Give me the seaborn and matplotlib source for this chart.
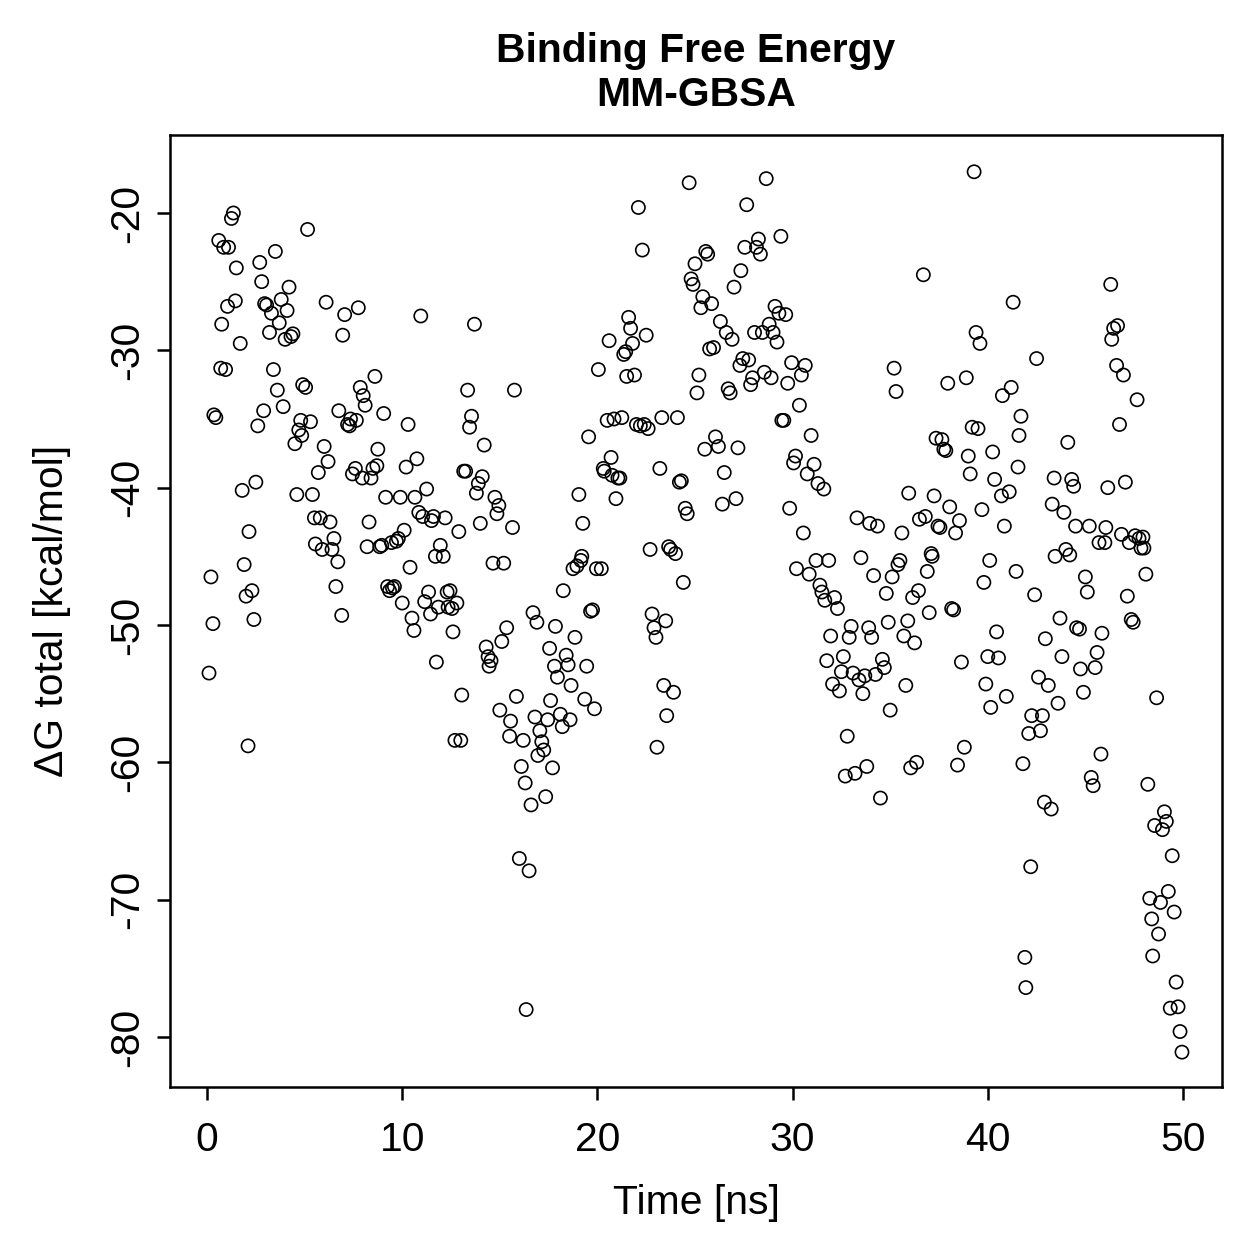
import seaborn as sns
import matplotlib.pyplot as plt
import pandas as pd

# time [ns] and dG total [kcal/mol]
time_ns = [
    0.1, 0.2, 0.3, 0.35, 0.45, 0.6, 0.7, 0.75, 0.85, 0.95, 1.05, 1.1, 1.25, 1.35, 1.45, 1.5, 1.7, 1.8, 1.9, 2.0,
    2.1, 2.15, 2.3, 2.4, 2.5, 2.6, 2.7, 2.8, 2.9, 2.95, 3.05, 3.2, 3.3, 3.4, 3.5, 3.6, 3.7, 3.8, 3.9, 4.0,
    4.1, 4.2, 4.3, 4.4, 4.5, 4.6, 4.7, 4.8, 4.85, 4.9, 5.05, 5.15, 5.3, 5.4, 5.5, 5.55, 5.7, 5.8, 5.9, 6.0,
    6.1, 6.2, 6.3, 6.4, 6.5, 6.6, 6.7, 6.75, 6.9, 6.95, 7.05, 7.2, 7.3, 7.35, 7.45, 7.6, 7.65, 7.75, 7.85, 7.95,
    8.0, 8.1, 8.2, 8.3, 8.4, 8.5, 8.6, 8.7, 8.75, 8.85, 8.95, 9.05, 9.15, 9.25, 9.35, 9.45, 9.5, 9.6, 9.7, 9.8,
    9.9, 10.0, 10.1, 10.2, 10.3, 10.4, 10.5, 10.6, 10.65, 10.75, 10.85, 10.95, 11.05, 11.15, 11.25, 11.35, 11.45, 11.5, 11.6, 11.7,
    11.75, 11.85, 11.95, 12.1, 12.2, 12.3, 12.35, 12.45, 12.55, 12.6, 12.7, 12.8, 12.9, 13.0, 13.05, 13.15, 13.25, 13.35, 13.45, 13.55,
    13.7, 13.8, 13.9, 14.0, 14.1, 14.2, 14.3, 14.4, 14.45, 14.55, 14.65, 14.75, 14.85, 14.95, 15.0, 15.1, 15.2, 15.35, 15.5, 15.55,
    15.65, 15.75, 15.85, 16.0, 16.1, 16.2, 16.3, 16.35, 16.5, 16.6, 16.7, 16.8, 16.9, 16.95, 17.05, 17.15, 17.25, 17.35, 17.45, 17.55,
    17.6, 17.7, 17.8, 17.85, 17.95, 18.1, 18.2, 18.25, 18.4, 18.5, 18.6, 18.65, 18.75, 18.85, 18.95, 19.05, 19.15, 19.2, 19.25, 19.35,
    19.45, 19.55, 19.65, 19.75, 19.85, 19.95, 20.05, 20.2, 20.3, 20.35, 20.5, 20.6, 20.7, 20.75, 20.85, 20.95, 21.05, 21.15, 21.25, 21.35,
    21.45, 21.5, 21.6, 21.7, 21.8, 21.9, 22.0, 22.1, 22.2, 22.3, 22.4, 22.5, 22.6, 22.7, 22.8, 22.9, 23.0, 23.05, 23.2, 23.3,
    23.4, 23.5, 23.55, 23.65, 23.75, 23.9, 24.0, 24.1, 24.2, 24.3, 24.4, 24.5, 24.6, 24.7, 24.8, 24.9, 25.0, 25.1, 25.2, 25.3,
    25.4, 25.5, 25.55, 25.65, 25.75, 25.85, 25.95, 26.05, 26.2, 26.3, 26.4, 26.5, 26.6, 26.7, 26.8, 26.9, 27.0, 27.1, 27.2, 27.3,
    27.35, 27.45, 27.55, 27.65, 27.75, 27.85, 27.95, 28.05, 28.15, 28.25, 28.35, 28.45, 28.55, 28.65, 28.8, 28.9, 29.0, 29.1, 29.2, 29.3,
    29.4, 29.45, 29.55, 29.65, 29.75, 29.85, 29.95, 30.05, 30.15, 30.2, 30.35, 30.45, 30.55, 30.65, 30.75, 30.85, 30.95, 31.1, 31.2, 31.3,
    31.4, 31.5, 31.6, 31.65, 31.75, 31.85, 31.95, 32.05, 32.15, 32.3, 32.4, 32.5, 32.6, 32.7, 32.8, 32.9, 33.0, 33.1, 33.2, 33.3,
    33.4, 33.5, 33.6, 33.7, 33.8, 33.9, 33.95, 34.05, 34.15, 34.25, 34.35, 34.5, 34.6, 34.7, 34.8, 34.9, 35.0, 35.1, 35.2, 35.3,
    35.4, 35.5, 35.6, 35.7, 35.8, 35.9, 35.95, 36.05, 36.15, 36.25, 36.35, 36.45, 36.5, 36.7, 36.8, 36.9, 37.0, 37.1, 37.15, 37.25,
    37.35, 37.45, 37.55, 37.65, 37.75, 37.85, 37.95, 38.05, 38.15, 38.25, 38.35, 38.45, 38.55, 38.65, 38.8, 38.9, 39.0, 39.1, 39.2, 39.3,
    39.4, 39.5, 39.6, 39.7, 39.8, 39.9, 40.0, 40.1, 40.15, 40.25, 40.35, 40.45, 40.55, 40.7, 40.75, 40.85, 40.95, 41.1, 41.2, 41.3,
    41.45, 41.55, 41.6, 41.7, 41.8, 41.9, 41.95, 42.1, 42.2, 42.25, 42.4, 42.5, 42.6, 42.7, 42.8, 42.9, 42.95, 43.1, 43.25, 43.3,
    43.4, 43.45, 43.6, 43.7, 43.8, 43.9, 44.0, 44.1, 44.2, 44.3, 44.4, 44.5, 44.55, 44.7, 44.75, 44.9, 45.0, 45.1, 45.2, 45.3,
    45.4, 45.5, 45.6, 45.7, 45.8, 45.85, 46.0, 46.05, 46.15, 46.3, 46.35, 46.45, 46.6, 46.65, 46.75, 46.85, 46.95, 47.05, 47.15, 47.25,
    47.35, 47.45, 47.55, 47.65, 47.75, 47.85, 47.95, 48.0, 48.1, 48.2, 48.3, 48.4, 48.45, 48.55, 48.65, 48.75, 48.85, 48.95, 49.05, 49.15,
    49.25, 49.35, 49.45, 49.55, 49.65, 49.75, 49.85, 49.95,
]
dg_total = [
    -53.5, -46.5, -49.9, -34.7, -34.9, -22.0, -31.3, -28.1, -22.5, -31.4, -26.8, -22.5, -20.4, -20.0, -26.4, -24.0, -29.5, -40.2, -45.6, -47.9,
    -58.8, -43.2, -47.5, -49.6, -39.6, -35.5, -23.6, -25.0, -34.4, -26.6, -26.7, -28.7, -27.3, -31.4, -22.8, -32.9, -28.0, -26.3, -34.1, -29.2,
    -27.1, -25.4, -29.0, -28.8, -36.8, -40.5, -35.8, -35.1, -36.2, -32.5, -32.7, -21.2, -35.2, -40.5, -42.2, -44.1, -38.9, -42.2, -44.5, -37.0,
    -26.5, -38.1, -42.5, -44.5, -43.7, -47.2, -45.4, -34.4, -49.3, -28.9, -27.4, -35.4, -35.5, -35.0, -39.0, -38.6, -35.1, -26.9, -32.7, -39.3,
    -33.3, -34.0, -44.3, -42.5, -39.3, -38.6, -31.9, -38.4, -37.2, -44.3, -44.2, -34.6, -40.7, -47.2, -47.5, -44.0, -47.3, -47.2, -43.9, -43.7,
    -40.7, -48.4, -43.1, -38.5, -35.4, -45.8, -49.5, -50.4, -40.7, -37.9, -41.8, -27.5, -42.1, -48.3, -40.1, -47.6, -49.2, -42.4, -42.1, -45.0,
    -52.7, -48.7, -44.2, -45.0, -42.2, -47.6, -48.7, -47.5, -48.8, -50.5, -58.4, -48.4, -43.2, -58.4, -55.1, -38.8, -38.8, -32.9, -35.6, -34.8,
    -28.1, -40.4, -39.7, -42.6, -39.2, -36.9, -51.6, -52.3, -53.0, -52.6, -45.5, -40.7, -41.9, -41.3, -56.2, -51.2, -45.5, -50.2, -58.1, -57.0,
    -42.9, -32.9, -55.2, -67.0, -60.3, -58.4, -61.5, -78.0, -67.9, -63.1, -49.1, -56.7, -49.8, -59.5, -57.7, -58.5, -59.1, -62.5, -56.9, -51.7,
    -55.5, -60.4, -53.0, -50.1, -53.8, -56.5, -57.4, -47.5, -52.2, -52.9, -56.9, -54.4, -45.9, -50.9, -45.7, -40.5, -45.3, -45.0, -42.6, -55.4,
    -53.0, -36.3, -49.0, -48.9, -56.1, -45.9, -31.4, -45.9, -38.6, -38.8, -35.1, -29.3, -37.8, -39.1, -35.0, -40.8, -39.3, -39.3, -34.9, -30.3,
    -30.1, -31.9, -27.6, -28.4, -29.5, -31.8, -35.4, -19.6, -35.5, -22.7, -35.4, -28.9, -35.7, -44.5, -49.2, -50.2, -50.9, -58.9, -38.6, -34.9,
    -54.4, -49.7, -56.6, -44.3, -44.5, -54.9, -44.8, -34.9, -39.6, -39.5, -46.9, -41.5, -41.9, -17.8, -24.8, -25.2, -23.7, -33.1, -31.8, -26.9,
    -26.1, -37.2, -22.8, -23.0, -29.9, -26.6, -29.8, -36.3, -37.0, -27.9, -41.2, -38.9, -28.7, -32.8, -33.1, -29.2, -25.4, -40.8, -37.1, -31.1,
    -24.2, -30.6, -22.5, -19.4, -30.7, -32.5, -32.0, -28.7, -22.5, -21.9, -23.0, -28.7, -31.6, -17.5, -28.1, -32.0, -28.7, -26.8, -29.4, -27.3,
    -21.7, -35.1, -35.1, -27.4, -32.4, -41.5, -30.9, -38.2, -37.7, -45.9, -34.0, -31.8, -43.3, -31.1, -39.0, -46.3, -36.2, -38.3, -45.3, -39.7,
    -47.1, -47.6, -40.1, -48.2, -52.6, -45.3, -50.8, -54.3, -48.0, -48.8, -54.8, -53.4, -52.3, -61.0, -58.1, -50.9, -50.1, -53.5, -60.8, -42.2,
    -54.0, -45.1, -55.0, -53.7, -60.3, -50.2, -42.6, -50.9, -46.4, -53.6, -42.8, -62.6, -52.5, -53.1, -47.7, -49.8, -56.2, -46.5, -31.3, -33.0,
    -45.6, -45.3, -43.3, -50.8, -54.4, -49.7, -40.4, -60.4, -48.0, -51.3, -60.0, -47.5, -42.3, -24.5, -42.1, -46.1, -49.1, -44.8, -45.0, -40.6,
    -36.4, -42.8, -42.9, -36.5, -37.2, -37.3, -32.4, -41.4, -48.8, -48.9, -43.3, -60.2, -42.4, -52.7, -58.9, -32.0, -37.7, -39.0, -35.6, -17.0,
    -28.7, -35.7, -29.5, -41.6, -46.9, -54.3, -52.3, -45.3, -56.0, -37.4, -39.4, -50.5, -52.4, -40.6, -33.3, -42.8, -55.2, -40.3, -32.7, -26.5,
    -46.1, -38.5, -36.2, -34.8, -60.1, -74.2, -76.4, -57.9, -67.6, -56.6, -47.8, -30.6, -53.8, -57.7, -56.6, -62.9, -51.0, -54.4, -63.4, -41.2,
    -39.3, -45.0, -55.7, -49.5, -52.3, -41.8, -44.5, -36.7, -44.9, -39.4, -39.9, -42.8, -50.2, -50.3, -53.2, -54.9, -46.5, -47.6, -42.8, -61.1,
    -61.7, -53.1, -52.0, -44.0, -59.4, -50.6, -44.0, -42.9, -40.0, -25.2, -29.2, -28.4, -31.1, -28.2, -35.4, -43.4, -31.8, -39.6, -47.9, -44.0,
    -49.6, -49.8, -43.5, -33.6, -43.7, -44.4, -43.6, -44.4, -46.3, -61.6, -69.9, -71.4, -74.1, -64.6, -55.3, -72.5, -70.2, -64.9, -63.6, -64.3,
    -69.4, -77.9, -66.8, -70.9, -76.0, -77.8, -79.6, -81.1,
]

df = pd.DataFrame({"time": time_ns, "dg": dg_total})

sns.set_style("white")
plt.rcParams["font.family"] = ["Liberation Sans", "DejaVu Sans"]
plt.rcParams["font.size"] = 9.8
plt.rcParams["axes.unicode_minus"] = False
for key in ["text.color", "axes.labelcolor", "xtick.color", "ytick.color", "axes.edgecolor"]:
    plt.rcParams[key] = "black"

fig = plt.figure(figsize=(1259 / 300, 1259 / 300), dpi=300)
ax = fig.add_axes([0.135, 0.1366, 0.8356, 0.7562])

sns.scatterplot(data=df, x="time", y="dg", ax=ax, marker="o", s=10,
                facecolor="none", edgecolor="black", linewidth=0.4)

ax.set_xlim(-1.9, 52.0)
ax.set_ylim(-83.64, -14.32)
ax.set_xticks([0, 10, 20, 30, 40, 50])
ax.set_yticks([-80, -70, -60, -50, -40, -30, -20])

for sp in ax.spines.values():
    sp.set_visible(True)
    sp.set_color("black")
    sp.set_linewidth(0.6)

ax.tick_params(axis="both", direction="out", length=3.2, width=0.6,
               color="black", labelcolor="black", labelsize=9.8, bottom=True, left=True)
ax.tick_params(axis="x", pad=5)
ax.tick_params(axis="y", pad=2.5, labelrotation=90)
for lab in ax.get_yticklabels():
    lab.set_va("center")

ax.set_xlabel("Time [ns]", fontsize=9.8, labelpad=6, color="black")
ax.set_ylabel("\u0394G total [kcal/mol]", fontsize=9.8, labelpad=9, color="black")
ax.set_title("Binding Free Energy\nMM-GBSA", fontsize=9.8, fontweight="bold", pad=7, color="black")

fig.savefig("out.png", dpi=300)
plt.close(fig)
